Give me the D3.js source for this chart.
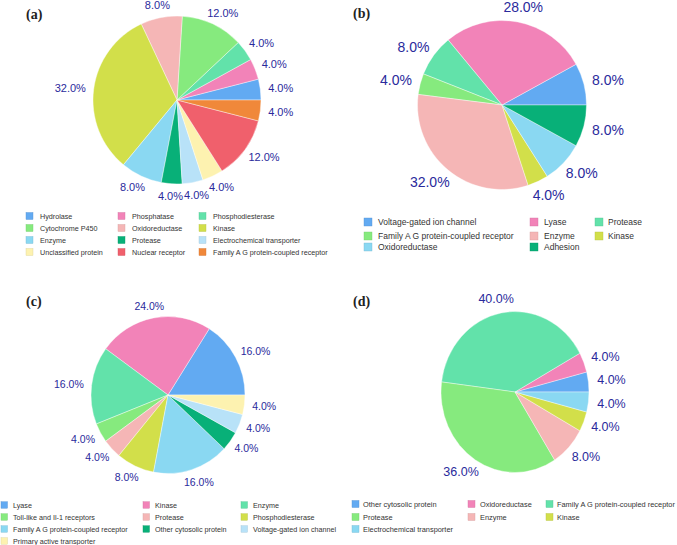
<!DOCTYPE html>
<html><head><meta charset="utf-8">
<script src="https://cdn.jsdelivr.net/npm/d3@7"></script>
<style>body{margin:0;background:#fff}svg{display:block}</style>
</head><body>
<svg id="chart" width="677" height="545"></svg>
<script>
// ---- data ----
const catsA = ["Hydrolase","Phosphatase","Phosphodiesterase","Cytochrome P450","Oxidoreductase","Kinase","Enzyme","Protease","Electrochemical transporter","Unclassified protein","Nuclear receptor","Family A G protein-coupled receptor"];
const valsA = [4,4,4,12,8,32,8,4,4,4,12,4];
const catsB = ["Voltage-gated ion channel","Lyase","Protease","Family A G protein-coupled receptor","Enzyme","Kinase","Oxidoreductase","Adhesion"];
const valsB = [8,28,8,4,32,4,8,8];
const catsC = ["Lyase","Kinase","Enzyme","Toll-like and Il-1 receptors","Protease","Phosphodiesterase","Family A G protein-coupled receptor","Other cytosolic protein","Voltage-gated ion channel","Primary active transporter"];
const valsC = [16,24,16,4,4,8,16,4,4,4];
const catsD = ["Other cytosolic protein","Oxidoreductase","Family A G protein-coupled receptor","Protease","Enzyme","Kinase","Electrochemical transporter"];
const valsD = [4,4,40,36,8,4,4];
const panelLetters = ["(a)","(b)","(c)","(d)"];

const palette = ["#62aaf2","#f283b8","#62e2aa","#86ea7e","#f5b6b6","#d2df4a","#8ad8f2","#08b078","#b8e2f8","#fdf2b0","#f0606c","#f0883a"];
const labelColor = "#2a2a9c";

// ---- layout ----
const panels = [
  {cats:catsA, vals:valsA, letter:panelLetters[0], lx:26, ly:14, cx:177, cy:100, rx:84, ry:84, off:8, lfs:11,
   leg:{sx:[26,118,199], tx:[40,132,213], ry:[216,228,240,252], fs:7.2, sw:7}},
  {cats:catsB, vals:valsB, letter:panelLetters[1], lx:353, ly:13, cx:502, cy:105, rx:84.5, ry:84.5, off:9, lfs:14,
   leg:{sx:[364,530,595], tx:[378,544,608], ry:[222,236,247], fs:8.5, sw:8}},
  {cats:catsC, vals:valsC, letter:panelLetters[2], lx:26, ly:301, cx:168, cy:395, rx:77, ry:78.5, off:8, lfs:10.5,
   leg:{sx:[1,143,241], tx:[13,155,253], ry:[505,517,529,541], fs:7.2, sw:6.5}},
  {cats:catsD, vals:valsD, letter:panelLetters[3], lx:353, ly:301, cx:515, cy:392, rx:74, ry:80.5, off:9, lfs:12.5,
   leg:{sx:[352,468,546], tx:[363,480,557], ry:[504,517,529], fs:7.4, sw:7}}
];

const svg = d3.select("#chart");

panels.forEach(p => {
  const g = svg.append("g");
  const pie = d3.pie().sort(null).value(d => d).startAngle(Math.PI/2).endAngle(Math.PI/2 - 2*Math.PI);
  const arcsData = pie(p.vals);
  const R = p.ry;
  const arc = d3.arc().innerRadius(0).outerRadius(R);
  const color = d3.scaleOrdinal().domain(p.cats).range(palette);

  g.append("g")
    .attr("transform", `translate(${p.cx},${p.cy}) scale(${p.rx/R},1)`)
    .selectAll("path").data(arcsData).join("path")
    .attr("d", arc)
    .attr("fill", (d,i) => color(p.cats[i]))
    .attr("stroke", "#fff").attr("stroke-width", 0.4);

  // labels
  arcsData.forEach((d,i) => {
    const m = (d.startAngle + d.endAngle)/2;
    const ux = Math.sin(m), uy = -Math.cos(m);
    const px = p.cx + (p.rx + p.off)*ux;
    const py = p.cy + (p.ry + p.off)*uy;
    const t = g.append("text")
      .attr("font-family","Liberation Sans, Arial, sans-serif")
      .attr("font-size", p.lfs)
      .attr("fill", labelColor)
      .attr("dominant-baseline","central")
      .text(p.vals[i].toFixed(1) + "%");
    const w = t.node().getComputedTextLength();
    const h = p.lfs*0.85;
    t.attr("x", px + (ux - 1)/2*w).attr("y", py + uy*h/2);
  });

  // panel letter
  g.append("text").attr("x", p.lx).attr("y", p.ly)
    .attr("dominant-baseline","central")
    .attr("font-family","Liberation Serif, Times New Roman, serif")
    .attr("font-weight","bold").attr("font-size", 14)
    .attr("fill","#222").text(p.letter);

  // legend (row-major, 3 columns)
  const L = p.leg;
  p.cats.forEach((c,i) => {
    const col = i % 3, row = Math.floor(i/3);
    const y = L.ry[row];
    g.append("rect").attr("x", L.sx[col]).attr("y", y - L.sw/2)
      .attr("width", L.sw).attr("height", L.sw)
      .attr("fill", color(c)).attr("stroke", d3.color(color(c)).darker(0.4)).attr("stroke-width",0.4);
    g.append("text").attr("x", L.tx[col]).attr("y", y)
      .attr("dominant-baseline","central")
      .attr("font-family","Liberation Sans, Arial, sans-serif")
      .attr("font-size", L.fs).attr("fill","#333").text(c);
  });
});
</script>
</body></html>
